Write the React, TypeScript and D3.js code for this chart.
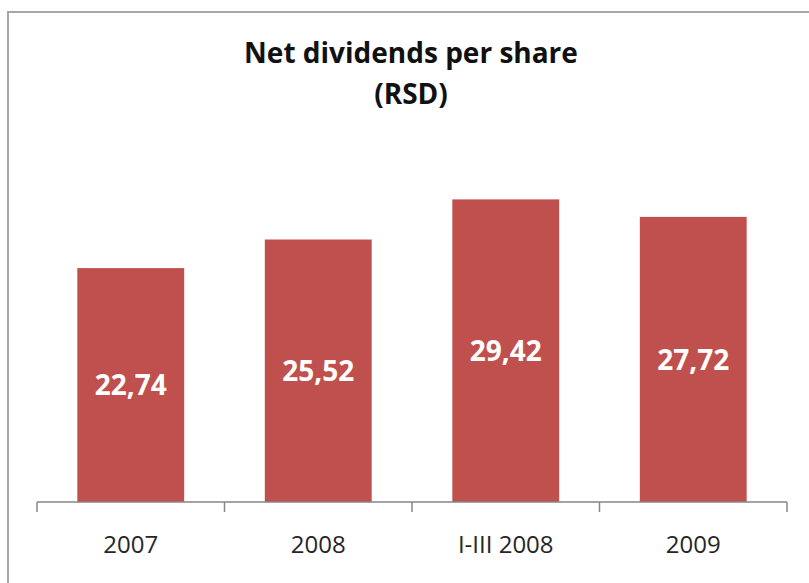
import React, { useRef, useEffect } from 'react';
import * as d3 from 'd3';

const categories = ['2007', '2008', 'I-III 2008', '2009'];
const values = [22.74, 25.52, 29.42, 27.72];
const titleLines = ['Net dividends per share', '(RSD)'];

const W = 809;
const H = 583;

const fmt = (v: number) => v.toFixed(2).replace('.', ',');

const App: React.FC = () => {
  const svgRef = useRef<SVGSVGElement>(null);

  useEffect(() => {
    if (!svgRef.current) return;
    const svg = d3.select(svgRef.current);
    svg.selectAll('*').remove();

    const barColor = '#c0504d';
    const axisColor = '#868686';
    const font = "'Open Sans', 'Noto Sans', sans-serif";

    svg.append('rect').attr('width', W).attr('height', H).attr('fill', '#fff');

    // chart frame (runs off the right and bottom edge)
    svg.append('rect')
      .attr('x', 8).attr('y', 12)
      .attr('width', 840).attr('height', 640)
      .attr('fill', 'none')
      .attr('stroke', '#a6a6a6')
      .attr('stroke-width', 2);

    // Title
    svg.append('text')
      .attr('x', 410)
      .attr('text-anchor', 'middle')
      .attr('font-family', font)
      .attr('font-weight', 'bold')
      .attr('font-size', 28)
      .attr('fill', '#111')
      .selectAll('tspan')
      .data(titleLines)
      .enter().append('tspan')
      .attr('x', 411)
      .attr('y', (d, i) => 63 + i * 41)
      .text(d => d);

    const x = d3.scaleBand()
      .domain(categories)
      .range([37, 787])
      .paddingInner(0.43)
      .paddingOuter(0.215);

    const y = d3.scaleLinear().domain([0, 35]).range([502, 142]);

    const g = svg.append('g');

    g.selectAll('.bar')
      .data(values)
      .enter().append('rect')
      .attr('x', (d, i) => x(categories[i]) || 0)
      .attr('y', d => y(d))
      .attr('width', x.bandwidth())
      .attr('height', d => y(0) - y(d))
      .attr('fill', barColor);

    g.selectAll('.val')
      .data(values)
      .enter().append('text')
      .attr('x', (d, i) => (x(categories[i]) || 0) + x.bandwidth() / 2)
      .attr('y', d => (y(d) + y(0)) / 2)
      .attr('dy', '0.36em')
      .attr('text-anchor', 'middle')
      .attr('font-family', font)
      .attr('font-weight', 'bold')
      .attr('font-size', 28)
      .attr('fill', '#fff')
      .text(d => fmt(d));

    // Axis line and boundary ticks
    const [r0, r1] = x.range();
    const step = x.step();
    const bounds = d3.range(categories.length + 1).map(i => r0 + i * step);

    g.append('line')
      .attr('x1', r0).attr('x2', r1)
      .attr('y1', y(0)).attr('y2', y(0))
      .attr('stroke', axisColor).attr('stroke-width', 1.5);

    g.selectAll('.tick')
      .data(bounds)
      .enter().append('line')
      .attr('x1', d => d).attr('x2', d => d)
      .attr('y1', y(0)).attr('y2', y(0) + 10)
      .attr('stroke', axisColor).attr('stroke-width', 1.5);

    g.selectAll('.cat')
      .data(categories)
      .enter().append('text')
      .attr('x', d => (x(d) || 0) + x.bandwidth() / 2)
      .attr('y', 553)
      .attr('text-anchor', 'middle')
      .attr('font-family', font)
      .attr('font-size', 24)
      .attr('fill', '#262626')
      .text(d => d);
  }, []);

  return (
    <svg
      ref={svgRef}
      width={W}
      height={H}
      style={{ position: 'absolute', left: 0, top: 0, display: 'block' }}
    />
  );
};

export default App;
